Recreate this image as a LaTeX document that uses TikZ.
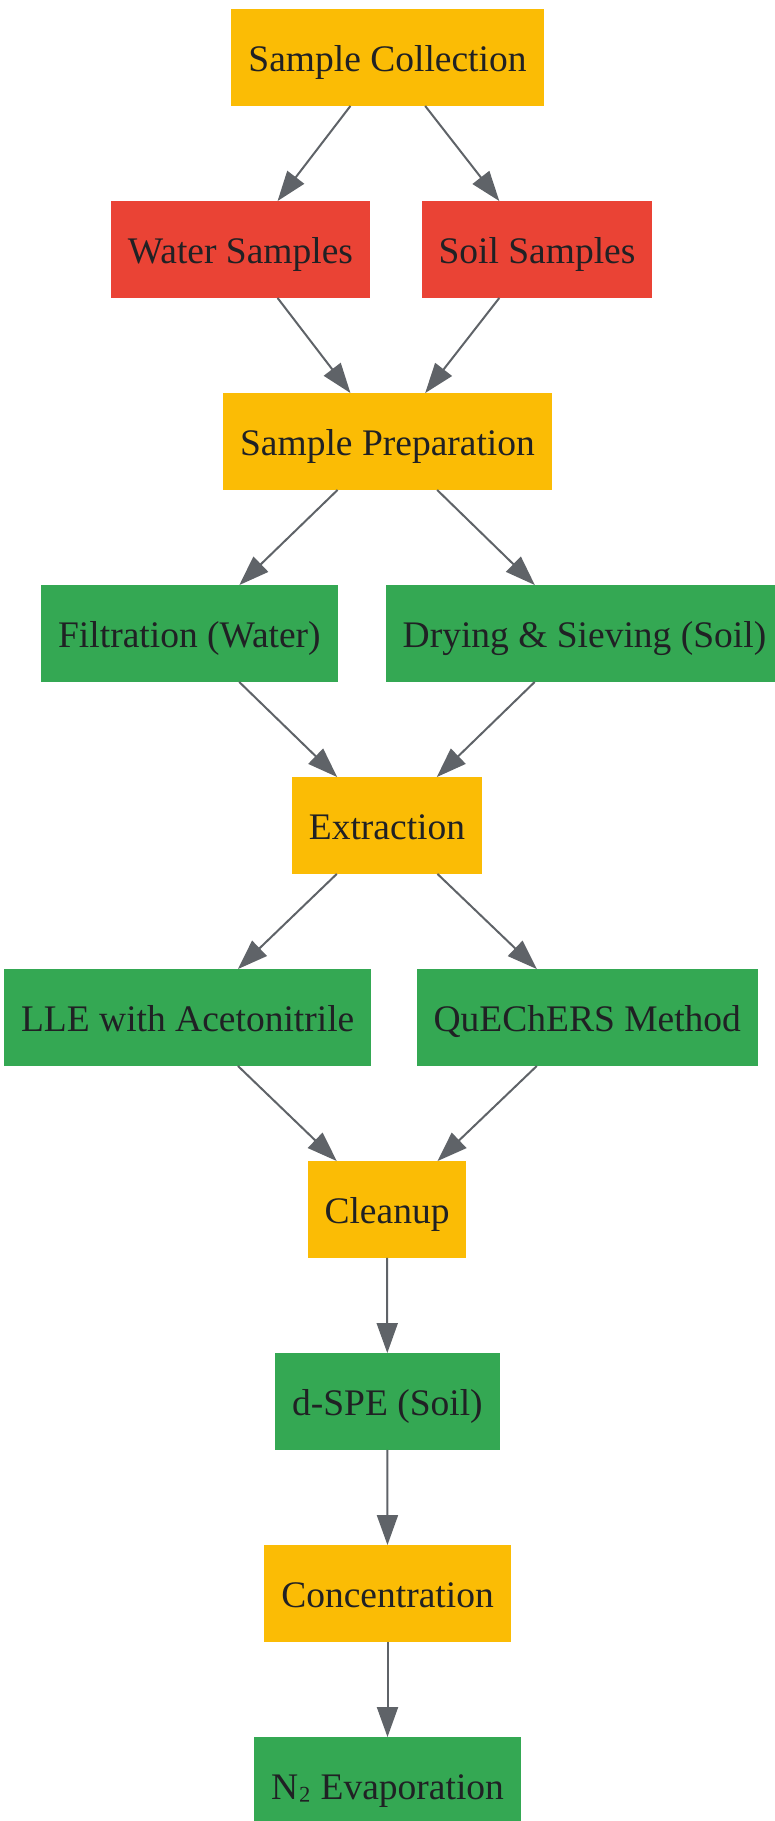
\documentclass[tikz,border=0pt]{standalone}
\usepackage{fontspec}
\setmainfont{Liberation Serif}
\usepackage{tikz}
\usetikzlibrary{arrows.meta}

\definecolor{stepyellow}{HTML}{FBBC05}
\definecolor{stepred}{HTML}{EA4335}
\definecolor{stepgreen}{HTML}{34A853}
\definecolor{edgegray}{HTML}{5F6368}
\definecolor{textdark}{HTML}{202124}

\tikzset{
    box/.style={rectangle, inner xsep=17pt, minimum height=96.5pt,
        text height=36pt, text depth=8pt, text=textdark,
        font=\fontsize{37.5}{45}\selectfont},
    flow/.style={draw=edgegray, line width=2pt,
        -{Triangle[length=30pt,width=21pt]}, fill=edgegray}
}

\begin{document}
\begin{tikzpicture}[x=1pt,y=-1pt]
        % page
        \useasboundingbox (0,0) rectangle (775,1821);

        % stages
        \node[box,fill=stepyellow] (collect) at (387.5,57.5) {Sample Collection};
        \node[box,fill=stepred] (water) at (240.5,249.5) {Water Samples};
        \node[box,fill=stepred] (soil) at (537,249.5) {Soil Samples};
        \node[box,fill=stepyellow] (prep) at (387.5,441.5) {Sample Preparation};
        \node[box,fill=stepgreen] (filter) at (189.4,633.5) {Filtration (Water)};
        \node[box,fill=stepgreen] (dry) at (584.5,633.5) {Drying \& Sieving (Soil)};
        \node[box,fill=stepyellow] (extract) at (387,825.5) {Extraction};
        \node[box,fill=stepgreen] (lle) at (187.7,1017.5) {LLE with Acetonitrile};
        \node[box,fill=stepgreen] (quech) at (587.3,1017.5) {QuEChERS Method};
        \node[box,fill=stepyellow] (cleanup) at (387,1209.5) {Cleanup};
        \node[box,fill=stepgreen] (dspe) at (387.4,1401.5) {d-SPE (Soil)};
        \node[box,fill=stepyellow] (conc) at (387.5,1593.5) {Concentration};
        \node[box,fill=stepgreen] (evap) at (387.5,1785.5) {N\raisebox{5pt}{₂} Evaporation};

        % arrows
        \foreach \a/\b in {collect/water,collect/soil,water/prep,soil/prep,
                prep/filter,prep/dry,filter/extract,dry/extract,
                extract/lle,extract/quech,lle/cleanup,quech/cleanup,
                cleanup/dspe,dspe/conc,conc/evap}
            \draw[flow] (\a) -- (\b);
\end{tikzpicture}
\end{document}
